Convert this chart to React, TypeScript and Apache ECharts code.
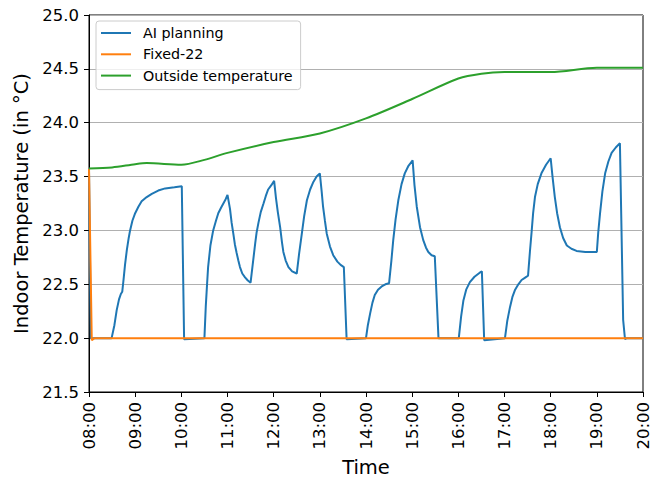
import React, { useEffect, useRef } from "react";
import * as echarts from "echarts";

const seriesNames = ["AI planning", "Fixed-22", "Outside temperature"];
const seriesColors = ["#1f77b4", "#ff7f0e", "#2ca02c"];

// [hour of day, temperature °C]
const aiPlanning: [number, number][] = [
  [8.0, 23.57], [8.04, 22.0], [8.49, 22.0], [8.55, 22.12], [8.6, 22.26], [8.65, 22.36],
  [8.69, 22.41], [8.72, 22.43], [8.75, 22.55], [8.78, 22.68], [8.82, 22.82], [8.86, 22.93],
  [8.89, 23.0], [8.94, 23.09], [9.0, 23.16], [9.07, 23.22], [9.14, 23.27], [9.25, 23.31],
  [9.36, 23.34], [9.5, 23.37], [9.65, 23.39], [9.85, 23.4], [10.01, 23.41], [10.06, 21.99],
  [10.5, 22.0], [10.53, 22.3], [10.56, 22.52], [10.58, 22.66], [10.63, 22.86], [10.69, 23.0],
  [10.75, 23.09], [10.8, 23.16], [10.86, 23.21], [10.91, 23.25], [10.96, 23.29], [11.0, 23.33],
  [11.054, 23.2], [11.09, 23.07], [11.126, 22.97], [11.16, 22.87], [11.198, 22.79], [11.235, 22.72],
  [11.27, 22.66], [11.32, 22.6], [11.38, 22.565], [11.44, 22.535], [11.5, 22.515],
  [11.6, 22.88], [11.63, 22.98], [11.67, 23.07], [11.72, 23.17], [11.78, 23.25], [11.83, 23.32],
  [11.88, 23.38], [11.95, 23.42], [12.01, 23.46],
  [12.05, 23.3], [12.09, 23.17], [12.14, 23.03], [12.18, 22.89], [12.21, 22.8], [12.26, 22.72],
  [12.32, 22.66], [12.4, 22.62], [12.5, 22.6],
  [12.55, 22.78], [12.61, 22.97], [12.66, 23.13], [12.72, 23.28], [12.79, 23.38], [12.86, 23.45],
  [12.93, 23.5], [13.0, 23.53],
  [13.04, 23.36], [13.07, 23.22], [13.11, 23.09], [13.15, 22.97], [13.22, 22.85], [13.29, 22.77],
  [13.38, 22.71], [13.45, 22.68], [13.52, 22.66], [13.58, 21.99],
  [14.0, 22.0], [14.04, 22.12], [14.09, 22.23], [14.14, 22.33], [14.19, 22.4], [14.26, 22.45],
  [14.34, 22.48], [14.42, 22.5], [14.5, 22.51],
  [14.55, 22.72], [14.59, 22.91], [14.64, 23.1], [14.7, 23.28], [14.77, 23.43], [14.84, 23.53],
  [14.92, 23.6], [15.01, 23.65],
  [15.05, 23.42], [15.1, 23.22], [15.17, 23.03], [15.24, 22.91], [15.3, 22.84], [15.35, 22.8],
  [15.42, 22.77], [15.49, 22.76], [15.57, 22.0],
  [16.01, 22.0], [16.06, 22.2], [16.11, 22.35], [16.17, 22.45], [16.25, 22.52], [16.35, 22.57],
  [16.47, 22.61], [16.51, 22.62], [16.56, 21.98],
  [17.01, 22.0], [17.06, 22.16], [17.12, 22.29], [17.17, 22.38], [17.23, 22.45], [17.3, 22.5],
  [17.37, 22.54], [17.44, 22.56], [17.51, 22.58],
  [17.55, 22.8], [17.59, 23.0], [17.62, 23.16], [17.66, 23.31], [17.72, 23.43], [17.8, 23.53],
  [17.9, 23.61], [18.0, 23.67],
  [18.04, 23.5], [18.09, 23.31], [18.14, 23.16], [18.2, 23.03], [18.27, 22.93], [18.35, 22.86],
  [18.45, 22.83], [18.56, 22.81], [18.75, 22.8], [19.0, 22.8],
  [19.03, 22.98], [19.07, 23.16], [19.12, 23.36], [19.18, 23.53], [19.25, 23.64], [19.32, 23.72],
  [19.41, 23.77], [19.5, 23.81], [19.57, 22.17], [19.61, 21.99], [19.65, 22.0], [20.0, 22.0],
];

const fixed22: [number, number][] = [
  [8.0, 23.57], [8.06, 21.98], [8.12, 22.0], [20.0, 22.0],
];

const outside: [number, number][] = [
  [8.0, 23.575], [8.5, 23.585], [9.0, 23.615], [9.25, 23.625],
  [10.0, 23.61], [10.5, 23.655], [11.0, 23.72], [12.0, 23.82], [13.0, 23.9],
  [14.0, 24.04], [15.0, 24.22], [16.0, 24.41], [16.5, 24.455], [17.0, 24.47],
  [18.0, 24.47], [19.0, 24.51], [20.0, 24.51],
];

const FONT = "DejaVu Sans";

export default function App() {
  const ref = useRef<HTMLDivElement>(null);
  useEffect(() => {
    if (!ref.current) return;
    const chart = echarts.init(ref.current, null, { renderer: "svg" });
    const datasets = [aiPlanning, fixed22, outside];
    chart.setOption({
      animation: false,
      backgroundColor: "#ffffff",
      textStyle: { fontFamily: FONT },
      grid: {
        left: 89, right: 16, top: 15, bottom: 86,
        outerBoundsMode: "none",
        containLabel: false,
        show: true, borderColor: "#000", borderWidth: 1, backgroundColor: "transparent",
      },
      legend: {
        orient: "vertical",
        left: 96, top: 21,
        icon: "rect",
        itemWidth: 30, itemHeight: 2,
        itemGap: 5.3,
        padding: [4, 8, 6, 5],
        backgroundColor: "rgba(255,255,255,0.8)",
        borderColor: "#cccccc", borderWidth: 1, borderRadius: 3,
        textStyle: { fontFamily: FONT, fontSize: 14.3, color: "#000", lineHeight: 16, padding: [0, 0, 0, 7] },
        data: seriesNames,
      },
      xAxis: {
        type: "value", min: 8, max: 20, interval: 1,
        name: "Time", nameLocation: "middle", nameGap: 63,
        nameTextStyle: { fontFamily: FONT, fontSize: 19.5, color: "#000" },
        axisLine: { show: true, lineStyle: { color: "#000", width: 1 } },
        axisTick: { show: true, length: 5, lineStyle: { color: "#000" } },
        axisLabel: {
          rotate: 90, margin: 10, fontFamily: FONT, fontSize: 16.5, color: "#000",
          formatter: (v: number) => String(v).padStart(2, "0") + ":00",
        },
        splitLine: { show: false },
      },
      yAxis: {
        type: "value", min: 21.5, max: 25, interval: 0.5,
        name: "Indoor Temperature (in °C)", nameLocation: "middle", nameGap: 54,
        nameTextStyle: { fontFamily: FONT, fontSize: 19.5, color: "#000" },
        axisLine: { show: true, lineStyle: { color: "#000", width: 1 } },
        axisTick: { show: true, length: 5, lineStyle: { color: "#000" } },
        axisLabel: {
          margin: 10, fontFamily: FONT, fontSize: 16.5, color: "#000",
          formatter: (v: number) => v.toFixed(1),
        },
        splitLine: { show: true, lineStyle: { color: "#b0b0b0", width: 1 } },
      },
      series: seriesNames.map((name, i) => ({
        name,
        type: "line",
        data: datasets[i],
        showSymbol: false,
        symbol: "none",
        smooth: i === 2 ? 0.3 : false,
        color: seriesColors[i],
        lineStyle: { color: seriesColors[i], width: 2 },
        z: 2 + i,
      })),
    });
    return () => chart.dispose();
  }, []);
  return <div ref={ref} style={{ position: "absolute", left: 0, top: 0, width: 659, height: 478 }} />;
}
